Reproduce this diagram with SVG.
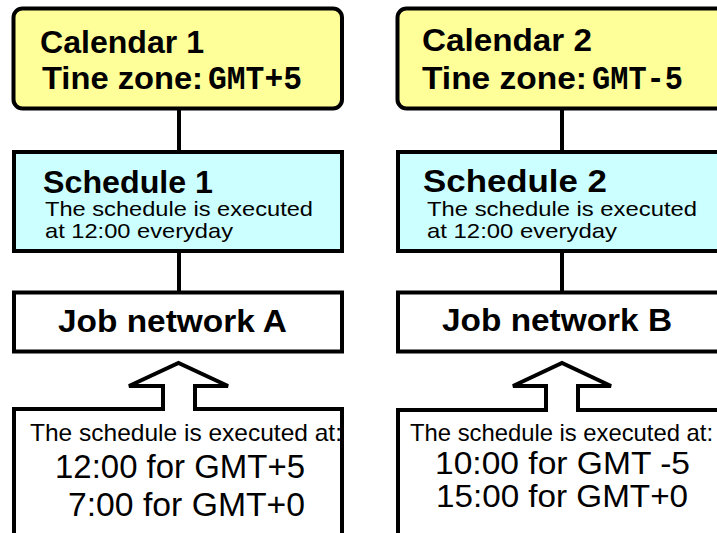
<svg xmlns="http://www.w3.org/2000/svg" width="717" height="533" viewBox="0 0 717 533">
<style>
.box{stroke:#000;stroke-width:4}
.cal{fill:#FFFF99}
.sch{fill:#CCFFFF}
.job{fill:#fff}
.note{fill:#fff;stroke:#000;stroke-width:4;stroke-linejoin:miter}
.b{font-family:"Liberation Sans",Arial,sans-serif;font-weight:bold;fill:#000}
.r{font-family:"Liberation Sans",Arial,sans-serif;fill:#000}
.m{font-family:"Liberation Mono","Courier New",monospace;font-weight:bold;fill:#000}
.con{stroke:#000;stroke-width:4;fill:none}
</style>
<rect width="717" height="533" fill="#fff"/>
<g id="connectors">
<line class="con" x1="179" y1="109" x2="179" y2="152"/>
<line class="con" x1="179" y1="251" x2="179" y2="292"/>
<line class="con" x1="562" y1="109" x2="562" y2="152"/>
<line class="con" x1="562" y1="251" x2="562" y2="292"/>
</g>
<g id="calendar1">
<rect class="box cal" x="13.5" y="8.5" width="328.5" height="100" rx="9"/>
<text class="b" x="40" y="53" font-size="32" textLength="164" lengthAdjust="spacingAndGlyphs">Calendar 1</text>
<text class="b" x="42" y="89" font-size="32" textLength="161" lengthAdjust="spacingAndGlyphs">Tine zone:</text>
<text class="m" x="208" y="89" font-size="33" textLength="94" lengthAdjust="spacingAndGlyphs">GMT+5</text>
</g>
<g id="calendar2">
<rect class="box cal" x="397.5" y="8.5" width="340" height="100" rx="9"/>
<text class="b" x="422" y="51" font-size="32" textLength="170" lengthAdjust="spacingAndGlyphs">Calendar 2</text>
<text class="b" x="422" y="89" font-size="32" textLength="165" lengthAdjust="spacingAndGlyphs">Tine zone:</text>
<text class="m" x="592" y="89" font-size="33" textLength="91" lengthAdjust="spacingAndGlyphs">GMT-5</text>
</g>
<g id="schedule1">
<rect class="box sch" x="14" y="152" width="328" height="99"/>
<text class="b" x="43" y="193" font-size="32" textLength="170" lengthAdjust="spacingAndGlyphs">Schedule 1</text>
<text class="r" x="45" y="216" font-size="21" textLength="268" lengthAdjust="spacingAndGlyphs">The schedule is executed</text>
<text class="r" x="45" y="238" font-size="21" textLength="188" lengthAdjust="spacingAndGlyphs">at 12:00 everyday</text>
</g>
<g id="schedule2">
<rect class="box sch" x="398" y="152" width="340" height="99"/>
<text class="b" x="423" y="192" font-size="32" textLength="184" lengthAdjust="spacingAndGlyphs">Schedule  2</text>
<text class="r" x="427" y="216" font-size="21" fill="#222" textLength="270" lengthAdjust="spacingAndGlyphs">The schedule is executed</text>
<text class="r" x="427" y="238" font-size="21" fill="#222" textLength="190" lengthAdjust="spacingAndGlyphs">at 12:00 everyday</text>
</g>
<g id="jobA">
<rect class="box job" x="14" y="292.5" width="328" height="59"/>
<text class="b" x="58" y="332" font-size="32" textLength="229" lengthAdjust="spacingAndGlyphs">Job network A</text>
</g>
<g id="jobB">
<rect class="box job" x="398" y="292.5" width="340" height="59"/>
<text class="b" x="442" y="331" font-size="32" textLength="230" lengthAdjust="spacingAndGlyphs">Job network B</text>
</g>
<g id="noteA">
<path class="note" d="M14 545 V409 H163 V386 H129 L178.5 363 L228 386 H195 V409 H342 V545"/>
<text class="r" x="30" y="441" font-size="24" textLength="312" lengthAdjust="spacingAndGlyphs">The schedule is executed at:</text>
<text class="r" x="55" y="478" font-size="33" textLength="250" lengthAdjust="spacingAndGlyphs">12:00 for GMT+5</text>
<text class="r" x="68" y="516" font-size="33" textLength="237" lengthAdjust="spacingAndGlyphs">7:00 for GMT+0</text>
</g>
<g id="noteB">
<path class="note" d="M398 545 V410 H546 V386 H513 L562 363 L611 386 H578 V410 H740"/>
<text class="r" x="410" y="441" font-size="24" fill="#222" textLength="303" lengthAdjust="spacingAndGlyphs">The schedule is executed at:</text>
<text class="r" x="435" y="474" font-size="32" fill="#222" textLength="255" lengthAdjust="spacingAndGlyphs">10:00 for GMT -5</text>
<text class="r" x="436" y="507" font-size="32" fill="#222" textLength="252" lengthAdjust="spacingAndGlyphs">15:00 for GMT+0</text>
</g>
</svg>
